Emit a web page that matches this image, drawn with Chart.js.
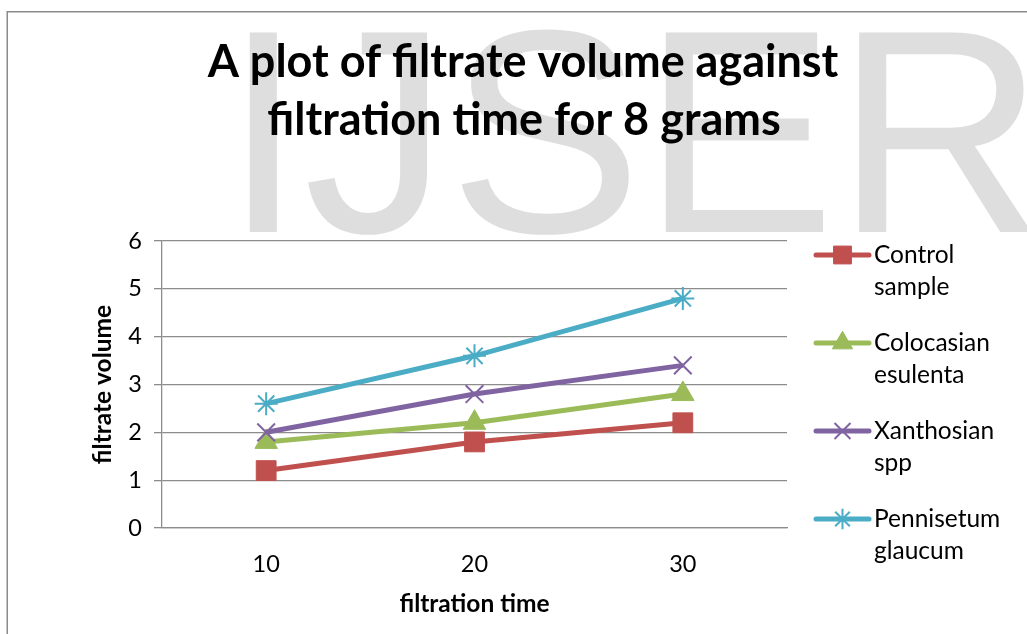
<!DOCTYPE html>
<html>
<head>
<meta charset="utf-8">
<script src="https://cdn.jsdelivr.net/npm/chart.js@4.4.1/dist/chart.umd.min.js"></script>
<style>
  html, body { margin: 0; padding: 0; background: #fff; }
  #wrap { width: 1027px; height: 634px; }
</style>
</head>
<body>
<div id="wrap"><canvas id="c" width="1027" height="634"></canvas></div>
<script>
// ---- data ----
const categories = ['10', '20', '30'];
const seriesNames = ['Control sample', 'Colocasian esulenta', 'Xanthosian spp', 'Pennisetum glaucum'];
const controlSample = [1.2, 1.8, 2.2];
const colocasianEsulenta = [1.8, 2.2, 2.8];
const xanthosianSpp = [2.0, 2.8, 3.4];
const pennisetumGlaucum = [2.6, 3.6, 4.8];
const yMin = 0, yMax = 6, yStep = 1;
const titleLines = ['A plot of filtrate volume against', 'filtration time for 8 grams'];
const xTitle = 'filtration time';
const yTitle = 'filtrate volume';
const watermark = 'IJSER';

// ---- styles ----
const FONT = 'Lato, "Open Sans", sans-serif';
const GRID = '#8c8c8c';
const colors = ['#C0504D', '#9BBB59', '#8064A2', '#4BACC6'];
const styles = [
  { pointStyle: 'rect', pointRadius: 14, pointBorderWidth: 1 },
  { pointStyle: 'triangle', pointRadius: 13, pointBorderWidth: 1 },
  { pointStyle: 'crossRot', pointRadius: 12.5, pointBorderWidth: 2 },
  { pointStyle: 'star', pointRadius: 11.5, pointBorderWidth: 2 }
];
const values = [controlSample, colocasianEsulenta, xanthosianSpp, pennisetumGlaucum];

const datasets = values.map((v, i) => ({
  label: seriesNames[i],
  data: v,
  borderColor: colors[i],
  backgroundColor: colors[i],
  pointBackgroundColor: colors[i],
  pointBorderColor: colors[i],
  borderWidth: 5,
  tension: 0,
  order: values.length - i,
  pointStyle: styles[i].pointStyle,
  pointRadius: styles[i].pointRadius,
  pointHoverRadius: styles[i].pointRadius,
  pointBorderWidth: styles[i].pointBorderWidth
}));

const decor = {
  id: 'decor',
  beforeDraw(chart) {
    const ctx = chart.ctx;
    ctx.save();
    ctx.fillStyle = '#ffffff';
    ctx.fillRect(0, 0, chart.width, chart.height);
    // watermark
    ctx.font = '290px "Liberation Sans", Arial, sans-serif';
    ctx.fillStyle = '#dedede';
    ctx.textBaseline = 'alphabetic';
    ctx.textAlign = 'left';
    ctx.fillText(watermark, 223, 232);
    // outer frame
    ctx.strokeStyle = '#8a8a8a';
    ctx.lineWidth = 1.5;
    ctx.strokeRect(7.25, 11.75, 1100, 700);
    // title
    ctx.fillStyle = '#000';
    ctx.font = 'bold 45px ' + FONT;
    ctx.textAlign = 'center';
    ctx.textBaseline = 'middle';
    ctx.fillText(titleLines[0], 523, 62);
    ctx.fillText(titleLines[1], 524, 120);
    ctx.restore();
  },
  afterDraw(chart) {
    const ctx = chart.ctx;
    ctx.save();
    chart.data.datasets.forEach((ds, i) => {
      const y = 255 + i * 88;
      ctx.strokeStyle = ds.borderColor;
      ctx.lineWidth = 5;
      ctx.lineCap = 'round';
      ctx.beginPath();
      ctx.moveTo(816, y);
      ctx.lineTo(869, y);
      ctx.stroke();
      ctx.fillStyle = ds.pointBackgroundColor;
      ctx.strokeStyle = ds.pointBorderColor;
      ctx.lineWidth = ds.pointBorderWidth;
      ctx.lineCap = 'butt';
      Chart.helpers.drawPoint(ctx, {
        pointStyle: ds.pointStyle,
        radius: ds.pointRadius * 0.9,
        rotation: 0,
        borderWidth: ds.pointBorderWidth
      }, 842.5, y);
      ctx.fillStyle = '#000';
      ctx.font = '24.5px ' + FONT;
      ctx.textAlign = 'left';
      ctx.textBaseline = 'middle';
      const words = ds.label.split(' ');
      words.forEach((w, k) => ctx.fillText(w, 874, y + k * 32));
    });
    ctx.restore();
  }
};

new Chart(document.getElementById('c'), {
  type: 'line',
  data: { labels: categories, datasets },
  options: {
    responsive: false,
    animation: false,
    devicePixelRatio: 1,
    layout: { padding: { left: 7, right: 240, top: 241, bottom: 0 } },
    plugins: {
      legend: { display: false },
      title: { display: false },
      tooltip: { enabled: false }
    },
    scales: {
      x: {
        type: 'category',
        offset: true,
        grid: { display: false, drawTicks: false },
        border: { display: true, color: GRID, width: 1.3 },
        ticks: { color: '#000', font: { family: FONT, size: 23.5 }, padding: 22 },
        title: {
          display: true, text: xTitle, color: '#000',
          font: { family: FONT, size: 24.5, weight: 'bold' },
          padding: { top: 0, bottom: 15 }
        },
        afterFit(scale) { scale.height = 106; }
      },
      y: {
        min: yMin, max: yMax,
        ticks: { stepSize: yStep, color: '#000', font: { family: FONT, size: 23.5 }, padding: 12 },
        grid: { color: GRID, lineWidth: 1.3, tickLength: 8, drawTicks: true },
        border: { display: true, color: GRID, width: 1.3 },
        title: {
          display: true, text: yTitle, color: '#000',
          font: { family: FONT, size: 24.5, weight: 'bold' },
          padding: { top: 81, bottom: 0 }
        },
        afterFit(scale) { scale.width = 155; }
      }
    }
  },
  plugins: [decor]
});
</script>
</body>
</html>
